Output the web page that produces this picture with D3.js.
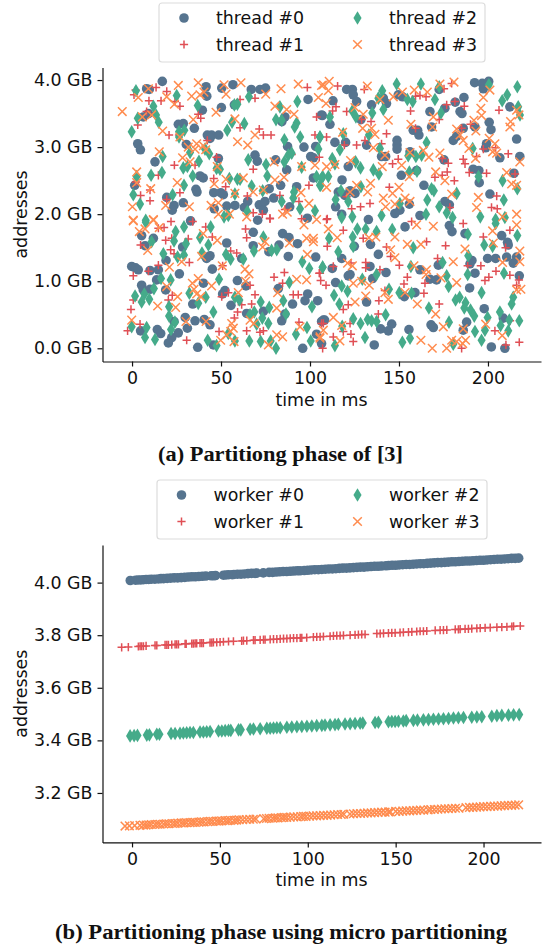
<!DOCTYPE html>
<html>
<head>
<meta charset="utf-8">
<script src="https://cdnjs.cloudflare.com/ajax/libs/d3/7.8.5/d3.min.js"></script>
<style>
    html, body { margin: 0; padding: 0; background: white; }
    svg { display: block; }
    text { font-family: "DejaVu Sans", sans-serif; fill: #111; }
</style>
</head>
<body>
<script>
// Values: [time in ms, address in GB]
const thread0 = [[17,3.98],[8.2,3.87],[9.7,3.86],[41.6,3.9],[50.4,3.88],[56.7,3.93],[67,3.86],[71.9,3.86],[75,3.88],[42,3.76],[98.9,3.71],[39.5,3.55],[50.2,3.59],[57.5,3.63],[9.2,3.5],[6.3,3.45],[26,3.34],[28.8,3.35],[35,3.28],[42.3,3.18],[44.7,3.18],[48.7,3.18],[43.8,3.13],[3.2,3.05],[4.7,2.96],[30.5,3.04],[12.9,2.78],[48.5,2.83],[69.1,2.88],[70.4,2.79],[80.7,2.81],[87.4,3.01],[96.6,3],[103.2,3.01],[100.4,2.86],[101.9,2.84],[86.9,2.66],[101.9,2.54],[38.2,2.57],[40,2.54],[1.5,2.43],[35.9,2.37],[36.5,2.33],[45.9,2.32],[49.8,2.32],[51.3,2.29],[19.5,2.25],[28.8,2.17],[23.6,2.13],[22.6,2.06],[53.2,2.12],[57.8,2.13],[63.1,2.1],[65,2.19],[71.5,2.14],[74.7,2.19],[73.8,2.06],[77.1,2.38],[83.5,2.43],[92.5,2.41],[79.6,2.24],[88.6,2.11],[98.5,1.94],[106.5,3.48],[85.9,3.45],[84.2,3.38],[46.2,2.08],[32.9,1.9],[70.6,1.91],
[192.5,3.96],[196.8,3.95],[200.4,3.98],[197.4,3.87],[120.6,3.86],[123.8,3.86],[124.3,3.78],[126.2,3.68],[112.9,3.69],[134.6,3.63],[143,3.65],[141.2,3.73],[149.6,3.78],[152,3.75],[172.6,3.86],[186.5,3.74],[181.6,3.67],[175.8,3.58],[167.4,3.53],[184.3,3.53],[185.4,3.5],[212.3,3.6],[106.9,3.47],[111.2,3.34],[128.6,3.41],[200.7,3.37],[201.7,3.26],[186.1,3.28],[192.7,3.3],[168.3,3.3],[158,3.25],[160.5,3.25],[161.2,3.18],[148.9,3.1],[148.9,3.03],[148.9,2.97],[114,3.07],[120,3.07],[131.8,3.03],[216.1,3.12],[180.5,3.1],[182.4,3.16],[199.2,3.05],[198.7,2.99],[206.7,2.84],[217.9,2.86],[156.2,2.93],[140.2,2.86],[142.5,2.86],[121.5,2.71],[175.3,2.81],[191.7,2.67],[194.9,2.65],[159.9,2.65],[151.3,2.58],[214.6,2.61],[118,2.51],[195.1,2.47],[164,2.43],[115.9,2.33],[122.5,2.35],[125.3,2.31],[119.6,2.28],[201.1,2.3],[114.4,2.11],[117.8,2],[175.8,2.19],[178.3,2.14],[155.8,2.15],[150.5,2.06],[147.7,2.01],[161.8,1.98],[132.8,1.92],
[5.4,1.68],[12,1.64],[7.3,1.53],[53.2,1.57],[68.1,1.73],[68.1,1.53],[84.6,1.71],[88.2,1.65],[93,1.56],[82.6,1.54],[76.9,1.44],[87.8,1.37],[103.2,1.36],[28.4,1.51],[19.1,1.31],[-0.2,1.22],[2,1.2],[3.5,1.17],[10.1,1.16],[14.8,1.17],[26.6,1.11],[43.8,1.38],[41.9,1.34],[45.1,1.18],[61.6,1.34],[59.2,1.01],[40.1,0.97],[64,0.93],[5.4,0.94],[10.1,0.88],[6.3,0.87],[13.8,1.02],[18.9,0.87],[52.2,0.86],[50.9,0.81],[55.6,0.64],[34.1,0.66],[82.2,0.89],[98.7,0.81],[97.2,0.71],[104.3,0.71],[90.2,0.66],[73.8,0.55],[64.4,0.52],[85.9,0.51],[84.1,0.41],[29.9,0.46],[35.4,0.41],[40.6,0.43],[43.8,0.35],[23.6,0.4],[31.1,0.3],[14.2,0.28],[4.8,0.26],[16.1,0.22],[26,0.23],[22.3,0.16],[20.4,0.08],[36.9,0.015],[45.7,0.05],[95.9,0],[103.7,0.21],[107.5,0.42],[106.5,0.07],
[153.4,1.81],[178.3,1.83],[179.8,1.74],[187.1,1.71],[207.7,1.68],[211,1.58],[211.4,1.54],[124.9,1.52],[134,1.55],[138.4,1.4],[117.8,1.34],[112.5,1.19],[133.7,1.22],[199.8,1.34],[204.3,1.34],[210.5,1.36],[216.1,1.36],[214.2,1.27],[191,1.31],[189.9,1.26],[172.1,1.24],[192.7,1.12],[217.6,1.08],[161.8,1.17],[167.4,1.03],[171.1,1.02],[121.5,1.08],[122.5,1.1],[114.4,0.98],[135.2,1.04],[142.7,1.13],[189.7,0.9],[159,0.83],[153,0.77],[131.8,0.69],[197.9,0.59],[208.6,0.45],[108.2,0.42],[106.5,0.4],[145.9,0.36],[139.7,0.29],[144,0.26],[155.6,0.28],[168,0.35],[169.3,0.31],[188,0.39],[186.1,0.27],[136.1,0.05],[201.9,0.02],[209.5,0]];

const thread1 = [[2,3.85],[1.1,3.78],[13.5,3.89],[19.5,3.83],[16.3,3.69],[9.5,3.69],[24.1,3.68],[26.9,3.61],[8.2,3.53],[3.2,3.33],[38.6,3.43],[37.2,3.49],[60.7,3.71],[69.1,3.73],[98.5,3.89],[103.7,3.45],[60.7,3.29],[71.5,3.27],[73.8,3.18],[78.1,3.18],[20.8,3.18],[26.4,3.18],[42.3,3.1],[89.7,2.89],[105.2,2.85],[102.8,3.18],[47.5,2.85],[23.8,2.73],[35.4,2.73],[68.1,2.67],[14.8,2.58],[45.9,2.53],[52.6,2.41],[2.2,2.48],[10.1,2.36],[26.9,2.32],[4.8,2.28],[10.1,2.2],[19.5,2.22],[64.8,2.27],[83.1,2.28],[99.4,2.43],[93.8,2.19],[68.1,2.02],[73.2,2],[77.5,1.94],[85.9,2.07],
[115.5,3.91],[130.5,3.86],[114.6,3.6],[112.7,3.54],[120.6,3.53],[134.3,3.38],[129,3.41],[161.8,3.77],[159.3,3.76],[165.2,3.75],[156.5,3.54],[181.4,3.68],[186.7,3.61],[176.8,3.63],[172.6,3.41],[179.6,3.95],[175.3,3.87],[206.2,3.55],[190.2,3.34],[143,3.2],[159.3,3.28],[185.2,3.28],[109.3,3.15],[130.9,3.1],[126.2,3.03],[119.3,3.03],[140.2,3.05],[204.3,2.99],[197.4,2.97],[211.4,2.9],[193.6,2.86],[186.1,2.82],[187.1,2.75],[177.7,2.76],[174.3,2.83],[149.6,2.82],[146.4,2.75],[177.1,2.63],[174.3,2.58],[170.2,2.55],[181.1,2.5],[189.5,2.62],[199.2,2.61],[215.2,2.6],[144.6,2.4],[133.7,2.16],[128.4,2.11],[123.4,2.08],[178.6,2.1],[204.9,2.27],[202,2.1],[205.2,2.08],[109.3,1.92],[120.6,2.26],
[21.9,1.89],[18,1.8],[34.1,1.89],[14.8,1.79],[18.9,1.61],[22.3,1.64],[31.6,1.63],[4.8,1.54],[41.4,1.81],[45.1,1.66],[21.7,1.47],[23.6,1.41],[32.2,1.28],[9.2,1.15],[0.7,1.08],[14.8,1.24],[55.4,1.45],[58.8,1.42],[63.8,1.78],[64.4,1.65],[77.5,1.93],[95.3,1.93],[50.9,1.23],[79.8,1.06],[85.6,1.13],[84.6,0.97],[105.2,1.12],[106,1.01],[90.6,0.8],[93.4,0.8],[69.1,0.8],[66.3,0.94],[54.1,0.83],[50.4,0.77],[20.4,0.72],[22.6,0.79],[0.7,0.72],[-0.6,0.58],[61.6,0.65],[67.2,0.66],[59.3,0.54],[57.5,0.45],[4.5,0.36],[-2.5,0.26],[30.7,0.12],[48.9,0.25],[64.4,0.26],[73.8,0.26],[71.9,0.24],[93.8,0.39],[106.5,0.37],
[109.7,1.93],[109.7,1.52],[118.7,1.76],[129.9,1.64],[143,1.51],[145.3,1.37],[157.1,1.89],[165.5,1.59],[176.2,1.53],[186.1,1.86],[197.4,1.66],[209.9,1.5],[212.3,1.76],[171.7,1.34],[113.1,1.22],[123,1.27],[131.3,1.28],[131.3,1.2],[139.3,1.17],[150.2,1.24],[154.7,1.06],[152.8,0.96],[164.6,0.97],[105.6,1.12],[109,0.94],[142.1,0.86],[138.7,0.71],[164,0.82],[172.6,0.66],[188.6,1.23],[196,1.23],[204.5,1.15],[212.3,1.09],[200.5,1.06],[198.3,1.01],[217.4,1.02],[216.1,0.94],[118.7,0.58],[121.5,0.65],[138.4,0.51],[122.5,0.37],[118.7,0.25],[123,0.21],[113.1,0.17],[124.3,0.1],[107.5,0.37],[107.1,0],[203.9,0.26],[185.2,0],[210.1,0.05],[217.6,0.09],[212.4,0.41]];

const thread2 = [[2.2,3.84],[25.1,3.77],[36.9,3.62],[65.7,3.75],[92.9,3.68],[57.5,3.63],[59.2,3.64],[12,3.61],[83.1,3.6],[13.5,3.48],[3.2,3.43],[15,3.37],[80.9,3.41],[84.1,3.4],[92.5,3.36],[91.4,3.3],[63.1,3.35],[56.2,3.37],[53.5,3.25],[-0.2,3.23],[29.4,3.25],[26.4,3.23],[26.4,3.15],[85.6,3.11],[94.5,3.15],[105.6,3.15],[104.7,2.97],[17.2,2.86],[32.6,2.92],[41,2.97],[43.4,2.9],[37.6,2.79],[87.8,2.88],[89.7,2.91],[85.6,2.78],[65.3,2.81],[75.3,2.74],[76,2.57],[28.8,2.69],[31.1,2.71],[49.4,2.67],[47.5,2.68],[16.8,2.62],[10.7,2.58],[2.6,2.56],[34.1,2.57],[95.3,2.7],[103.7,2.56],[107.1,2.56],[106,2.43],[54.7,2.53],[59.2,2.52],[60.7,2.52],[29.2,2.43],[67.2,2.42],[73.4,2.35],[0.7,2.29],[4.5,2.15],[22.8,2.29],[57.8,2.3],[91,2.33],[90.6,2.24],[84.1,2.19],[94.4,2.08],[102.8,2.05],[64.8,2.04],[51.7,1.96],[54.1,1.98],[7.7,1.91],
[148.7,3.94],[162.3,3.94],[140.6,3.84],[138.4,3.73],[154.7,3.71],[157.7,3.68],[170.2,3.71],[172.6,3.9],[200.5,3.93],[216.5,3.9],[210.8,3.78],[208,3.69],[217,3.6],[218,3.48],[173.6,3.51],[141.2,3.56],[135,3.51],[123.8,3.54],[125.8,3.45],[111.2,3.45],[118.7,3.2],[133.1,3.18],[165.5,3.07],[105.6,3.15],[116.8,2.96],[191.4,2.98],[139.3,2.98],[112.5,2.83],[114,2.75],[125.6,2.78],[128.4,2.69],[135.6,2.66],[138.7,2.6],[155.2,2.87],[159.5,2.86],[162.7,2.88],[155.8,2.63],[160.1,2.64],[106.5,2.53],[110.3,2.56],[105.6,2.43],[208.2,2.5],[194.7,2.56],[128.6,2.41],[117.4,2.35],[114.4,2.22],[121.5,2.19],[168.3,2.38],[169.6,2.35],[165.9,2.21],[182.4,2.31],[208.9,2.21],[216.5,2.38],[172.6,2.11],[176.8,2.02],[165.2,2],[150.5,2.16],[140.2,1.98],[123.8,1.96],[180.1,1.95],[195.7,1.96],[117.8,1.95],[204.3,1.92],[209.5,1.95],
[7.7,1.88],[24.5,1.74],[29.2,1.81],[44.2,1.81],[38.2,1.65],[23.6,1.6],[30.3,1.56],[11,1.59],[42.9,1.54],[73.8,1.66],[68.5,1.45],[78.4,1.46],[81.3,1.47],[52.8,1.4],[55.4,1.33],[62.5,1.33],[39.3,1.42],[17.6,1.41],[25.6,1.36],[29.2,1.39],[95.7,1.29],[99.6,1.19],[107.1,1.21],[16.3,1.04],[21.7,1.02],[12.3,0.89],[48.9,1.03],[88.4,0.98],[32.2,0.82],[1.7,0.78],[5.4,0.69],[6.9,0.81],[9.7,0.73],[37.2,0.67],[41.4,0.76],[57.8,0.76],[60.3,0.72],[20.8,0.62],[20.8,0.48],[72.3,0.69],[77.1,0.61],[85,0.71],[101.1,0.62],[45.7,0.54],[68.7,0.54],[66.3,0.5],[73.2,0.45],[70,0.36],[76.6,0.37],[86.5,0.51],[24.1,0.39],[21.9,0.28],[-0.2,0.32],[8.2,0.31],[7.3,0.16],[12.9,0.13],[42.5,0.12],[57.8,0.11],[54.1,0.22],[65.9,0.11],[72.3,0.1],[77.9,0.11],[80.9,0],[47.5,0.04],[92.1,0.21],[98.3,0.31],[100.4,0.11],
[126.6,1.78],[131.3,1.78],[110.7,1.64],[124,1.66],[137.4,1.74],[146.2,1.77],[204.3,1.86],[188.7,1.7],[197.9,1.54],[202.6,1.52],[216.5,1.68],[158,1.5],[124.3,1.52],[115.9,1.44],[107.1,1.21],[188.9,1.38],[174.5,1.28],[156.7,1.22],[188.6,1.1],[209,1.12],[176.8,1.08],[177.9,0.92],[196.4,0.83],[117.8,0.93],[121.1,0.85],[113.5,0.79],[129.4,1.03],[137.4,1.1],[144.4,0.88],[150.2,0.83],[157.1,0.82],[214.2,0.76],[213.3,0.66],[184.1,0.76],[181.8,0.72],[187.4,0.68],[186.7,0.6],[190.2,0.57],[192.3,0.48],[166.8,0.6],[116.5,0.66],[124.3,0.44],[128.4,0.37],[132.4,0.43],[134.6,0.41],[137.4,0.4],[142.5,0.5],[118.1,0.33],[178.1,0.39],[199.8,0.46],[198.3,0.27],[206.7,0.54],[207.1,0.34],[212,0.42],[211.4,0.26],[217.6,0.41],[192.7,0.25],[196.4,0.12],[130.9,0.16],[151.9,0.09],[156.2,0.15],[180.5,0.06],[114,0.04]];

const thread3 = [[-5.5,3.53],[3.5,3.74],[9.2,3.87],[19.5,3.75],[26,3.92],[37.2,3.96],[51.7,3.93],[61.2,3.96],[33.5,3.76],[38.2,3.78],[40.4,3.82],[52.8,3.79],[83.7,3.87],[93.4,3.94],[107.5,3.93],[104.7,3.74],[75.1,3.79],[23.8,3.64],[5.8,3.45],[11,3.48],[47.2,3.52],[34.4,3.41],[57.8,3.42],[80.3,3.61],[86.9,3.56],[91,3.49],[17.2,3.24],[26.9,3.15],[69.1,3.18],[59.3,3.08],[65,3.03],[15.3,2.93],[31.6,3],[36.3,3.05],[35.4,2.97],[40.1,3.02],[41.4,2.96],[28.4,2.84],[32.6,2.78],[47.9,2.71],[79.8,2.78],[95.3,2.71],[102.8,2.73],[2.6,2.63],[2.6,2.47],[10.5,2.38],[25.4,2.47],[46.2,2.45],[52.8,2.52],[62.5,2.54],[80.3,2.51],[85.4,2.55],[57.8,2.31],[68.1,2.33],[73.8,2.36],[94.9,2.32],[99.4,2.16],[0.2,2.11],[18.9,2.13],[32.2,2.11],[44.4,2.13],[48.5,2.17],[0.7,1.91],[12,1.92],[48.5,2],[54.7,2],[64.4,1.96],[84.6,2],[87.2,2.03],[103.7,1.92],
[110.8,3.98],[106.5,3.92],[110.3,3.84],[132.2,3.91],[109,3.65],[125.3,3.59],[129.9,3.49],[139.3,3.71],[144,3.4],[146.8,3.75],[151.9,3.82],[158.6,3.85],[165.9,3.82],[173,3.94],[180.9,3.97],[201.1,3.85],[197.4,3.74],[196,3.58],[196.4,3.47],[192.1,3.4],[169.3,3.45],[156.7,3.34],[168.9,3.3],[129.6,3.28],[134.6,3.28],[136.5,3.19],[118.3,3.22],[182.4,3.27],[184.3,3.18],[186.1,3.1],[193.2,3.24],[189.3,2.98],[200.7,3.13],[203.9,3.05],[202.6,2.93],[204.9,2.91],[212.7,3.38],[216.1,3.55],[212.3,3.3],[217.4,3.48],[135.6,2.99],[142.1,2.88],[163.7,2.95],[166.8,2.85],[173,2.91],[156.2,2.92],[122.8,2.8],[114,2.74],[109.3,2.71],[140.6,2.71],[151.5,2.73],[193,2.83],[217.9,2.78],[170.6,2.63],[155.8,2.56],[175.8,2.5],[210.5,2.62],[216.1,2.43],[213.3,2.45],[134,2.46],[132.4,2.33],[126.2,2.43],[122.5,2.33],[109.3,2.4],[150,2.4],[146.4,2.31],[141.2,2.24],[142.5,2.11],[147.7,2.15],[153.4,2.24],[156.2,2.19],[179.6,2.3],[194.6,2.25],[193.6,2.1],[216.1,2],
[0.7,1.9],[12,1.91],[7.3,1.78],[4.1,1.74],[15.3,1.8],[40,1.71],[47.9,1.61],[8.8,1.46],[39.1,1.37],[27.9,1.29],[21,1.21],[19.5,0.92],[33.9,0.97],[37.2,1.04],[34.8,0.88],[36.3,0.81],[38.6,0.77],[44.7,0.93],[25.6,0.77],[14.4,0.63],[24.5,0.61],[-0.2,0.42],[30.3,0.4],[41.6,0.4],[50.7,1.23],[63.5,1.18],[65.7,1.11],[63.8,1],[59.7,0.83],[66.3,0.42],[68.5,0.37],[81.3,0.6],[81.8,0.83],[92.5,1.03],[98.1,1.02],[56,0.37],[56.9,0.3],[55.4,0.25],[49.8,0.12],[53.2,0.2],[57.3,0.1],[76.6,0.05],[81.3,0.2],[84.6,0.17],[94.4,0.32],[105.6,0.15],[73.4,1.51],[74.7,1.59],[88.4,1.57],[98.5,1.4],[98.1,1.64],[101.9,1.64],[101.9,1.59],[96.6,1.84],
[110.3,1.78],[115.3,1.65],[133.1,1.65],[137,1.66],[147.7,1.66],[145.3,1.47],[147.7,1.35],[154.7,1.55],[162.3,1.55],[159.9,1.84],[169.3,1.82],[187.1,1.48],[202.6,1.75],[203,1.57],[217.9,1.45],[216.1,1.84],[208.2,1.96],[121.1,1.27],[123.8,1.23],[158.4,1.23],[165.5,1.17],[165.2,1.1],[180.5,1.29],[208.2,1.28],[217.9,1.29],[173.6,1.05],[182.4,0.98],[124.3,0.97],[129,1],[133.3,0.94],[142.1,0.83],[144,0.73],[153.4,0.83],[131.3,0.78],[125.3,0.69],[160.3,0.66],[170.6,0.51],[216.1,0.87],[218.5,0.88],[113.1,0.46],[117.8,0.34],[116.8,0.11],[198.7,0.36],[208,0.19],[174.9,0.32],[186.1,0.29],[162.3,0.12],[168.7,0],[176.8,0],[179.6,0.12],[187.4,0.12],[182.4,0.1],[185.8,0.07],[107.5,0.27],[105.6,0.17]];

const worker0 = [[-1,4.008],[2,4.009],[3.5,4.01],[5,4.01],[6.5,4.011],[8,4.012],[9.5,4.012],[11,4.013],[13,4.013],[15,4.014],[16.5,4.015],[18,4.015],[20,4.016],[22,4.017],[24,4.018],[26,4.018],[28,4.019],[30,4.02],[32,4.021],[34,4.022],[36,4.022],[38,4.023],[40,4.024],[42,4.025],[45,4.026],[46.5,4.026],[47.5,4.027],[52,4.028],[53.5,4.029],[55,4.03],[57,4.03],[58,4.031],[60,4.032],[62,4.032],[64,4.033],[66,4.034],[68,4.035],[70,4.035],[71,4.036],[74.7,4.037],[78,4.039],[80,4.039],[82,4.04],[84,4.041],[86,4.042],[88,4.042],[90,4.043],[92,4.044],[94,4.045],[95.6,4.045],[98,4.046],[100,4.047],[102,4.048],[104,4.049],[106,4.049],[108,4.05],[110,4.051],[112,4.052],[114,4.052],[116,4.053],[118,4.054],[120,4.055],[122,4.055],[124,4.056],[126,4.057],[128,4.058],[130,4.059],[132,4.059],[134,4.06],[136,4.061],[138,4.062],[140,4.062],[142,4.063],[144.5,4.064],[146,4.065],[148,4.066],[150,4.066],[152,4.067],[154,4.068],[156,4.069],[158,4.069],[160,4.07],[162,4.071],[164,4.072],[166,4.072],[168,4.073],[170,4.074],[172,4.075],[174,4.076],[176,4.076],[178,4.077],[180,4.078],[182,4.079],[184,4.079],[186,4.08],[188,4.081],[190,4.082],[192,4.082],[194,4.083],[196,4.084],[198,4.085],[200,4.085],[202,4.086],[204,4.087],[206,4.088],[208,4.089],[210,4.089],[212,4.09],[214,4.091],[216,4.092],[218,4.092],[220,4.093]];

const worker1 = [[-5.9,3.754],[-2.1,3.755],[3.6,3.757],[4.6,3.758],[5.5,3.758],[6.5,3.758],[8,3.759],[13.1,3.761],[14.1,3.761],[18.8,3.763],[19.8,3.763],[20.7,3.763],[22.6,3.764],[24.5,3.765],[25.4,3.765],[26.4,3.765],[30.2,3.767],[30.8,3.767],[34,3.768],[34.9,3.768],[35.9,3.769],[36.8,3.769],[38.7,3.77],[39.7,3.77],[40.6,3.77],[44.4,3.772],[45.4,3.772],[46.3,3.773],[48.2,3.773],[50.1,3.774],[52,3.775],[54.9,3.776],[57.7,3.777],[62.4,3.778],[63.4,3.779],[65.3,3.779],[69.1,3.781],[70,3.781],[72.9,3.782],[74.8,3.783],[75.7,3.783],[78.6,3.784],[80.5,3.785],[82.4,3.785],[84.3,3.786],[86.2,3.787],[88.1,3.787],[90,3.788],[91.9,3.789],[93.8,3.789],[95.7,3.79],[96.6,3.79],[99.4,3.791],[103.2,3.793],[105.1,3.794],[107,3.794],[108.9,3.795],[112.7,3.796],[114.6,3.797],[116.5,3.798],[118.4,3.798],[120.3,3.799],[124.1,3.8],[126.9,3.801],[128.8,3.802],[130.7,3.803],[132.6,3.803],[139.3,3.806],[141.2,3.806],[143.1,3.807],[145.9,3.808],[147.8,3.809],[149.7,3.809],[152.5,3.81],[154.4,3.811],[157.3,3.812],[159.2,3.813],[162,3.814],[163.9,3.815],[165.8,3.815],[167.7,3.816],[172.5,3.818],[175.3,3.819],[177.2,3.819],[179.1,3.82],[183.9,3.822],[185.7,3.822],[186.7,3.823],[189.5,3.824],[191.4,3.824],[193.3,3.825],[196.2,3.826],[198.1,3.827],[200.9,3.828],[203.8,3.829],[207.6,3.83],[210.4,3.831],[213.3,3.832],[216.1,3.833],[217.1,3.834],[220.9,3.835]];

const worker2 = [[-1.1,3.417],[1.2,3.418],[3.1,3.419],[8.4,3.42],[9.9,3.421],[14.1,3.423],[15.6,3.423],[22.2,3.426],[24.5,3.426],[27.3,3.427],[29.2,3.428],[31.1,3.429],[33,3.43],[34.9,3.43],[38.7,3.432],[40.6,3.432],[42.5,3.433],[44.4,3.434],[49.2,3.436],[51.1,3.436],[53,3.437],[54.9,3.438],[56.2,3.438],[60.6,3.44],[61.9,3.44],[67.2,3.442],[69.1,3.443],[72.9,3.444],[76.7,3.446],[78.6,3.446],[80.5,3.447],[82.4,3.448],[84.3,3.448],[88.1,3.45],[90.9,3.451],[93.8,3.452],[96.6,3.453],[99.5,3.454],[102.3,3.455],[105.1,3.456],[108,3.457],[109.8,3.458],[112.7,3.459],[115.5,3.46],[117.4,3.461],[121.2,3.462],[124.1,3.463],[126.9,3.464],[129.8,3.465],[131.3,3.466],[138.3,3.468],[140.2,3.469],[145.9,3.471],[147.8,3.472],[149.7,3.472],[151.6,3.473],[154.4,3.474],[156,3.475],[160.1,3.476],[162.4,3.477],[165.8,3.478],[168.7,3.479],[171.5,3.48],[174.4,3.481],[177.2,3.482],[180.1,3.483],[182.9,3.485],[185.7,3.486],[188.6,3.487],[193.3,3.488],[196.2,3.489],[199,3.49],[204.7,3.492],[207.6,3.494],[210.4,3.495],[214.2,3.496],[217.1,3.497],[220.3,3.498]];

const worker3 = [[-4,3.074],[-1.5,3.075],[1.5,3.076],[4.5,3.077],[6.5,3.078],[8,3.078],[9.5,3.079],[11,3.08],[13,3.08],[14.5,3.081],[16,3.081],[18,3.082],[19.5,3.083],[21,3.083],[23,3.084],[24.5,3.084],[26,3.085],[28,3.086],[29.5,3.086],[31,3.087],[33,3.087],[34.5,3.088],[36,3.088],[38,3.089],[39.5,3.09],[41,3.09],[43,3.091],[44.5,3.092],[46,3.092],[48,3.093],[49.5,3.093],[51,3.094],[53,3.095],[54.5,3.095],[56,3.096],[58,3.096],[59.5,3.097],[61,3.098],[63,3.098],[65,3.099],[67,3.1],[69,3.1],[70.5,3.101],[75,3.102],[76.5,3.103],[78,3.104],[80,3.104],[81.5,3.105],[83,3.105],[85,3.106],[86.5,3.107],[88,3.107],[90,3.108],[92,3.109],[94,3.109],[96,3.11],[97.5,3.111],[99,3.111],[101,3.112],[103,3.113],[105,3.113],[107,3.114],[109,3.115],[111,3.115],[113,3.116],[115,3.117],[117,3.118],[119,3.118],[120.5,3.119],[124,3.12],[126,3.121],[128,3.122],[130,3.122],[132,3.123],[134,3.124],[136,3.124],[138,3.125],[140,3.126],[142,3.127],[144,3.127],[146,3.128],[147,3.128],[150,3.13],[152,3.13],[154,3.131],[156,3.132],[158,3.132],[160,3.133],[162,3.134],[164,3.135],[166,3.135],[168.5,3.136],[170,3.137],[172,3.137],[174,3.138],[176,3.139],[178,3.14],[180,3.14],[182,3.141],[184,3.142],[186,3.142],[190,3.144],[192,3.145],[194,3.145],[196,3.146],[198,3.147],[200,3.148],[202,3.148],[204,3.149],[206,3.15],[208,3.15],[210,3.151],[212,3.152],[214,3.153],[216,3.153],[218,3.154],[220,3.155]];

const threadLabels = ["thread #0", "thread #1", "thread #2", "thread #3"];
const workerLabels = ["worker #0", "worker #1", "worker #2", "worker #3"];
const xTicks = [0, 50, 100, 150, 200];
const yTicksA = [0, 1, 2, 3, 4];
const yTicksB = [3.2, 3.4, 3.6, 3.8, 4.0];

const blue = "#56748f";
const red = "#e04f55";
const green = "#45ab8a";
const orange = "#ff8c4f";

// Thin diamond, matplotlib's "d" marker
const thinDiamond = {
    draw: function(ctx, size) {
        let h = Math.sqrt(size), w = h * 0.6;
        ctx.moveTo(0, -h); ctx.lineTo(w, 0); ctx.lineTo(0, h); ctx.lineTo(-w, 0); ctx.closePath();
    }
};

const markers = [
    { path: d3.symbol().type(d3.symbolCircle).size(72)(), fill: blue, stroke: "none" },
    { path: d3.symbol().type(d3.symbolPlus).size(24)(), fill: "none", stroke: red },
    { path: d3.symbol().type(thinDiamond).size(46)(), fill: green, stroke: "none" },
    { path: d3.symbol().type(d3.symbolTimes).size(50)(), fill: "none", stroke: orange }
];

const svg = d3.select("body").append("svg").attr("width", 542).attr("height", 947);

function drawMarker(g, m) {
    return g.append("path").attr("d", m.path).attr("fill", m.fill)
        .attr("stroke", m.stroke).attr("stroke-width", 1.5);
}

function drawPanel(o) {
    let x = d3.scaleLinear().domain(o.xDomain).range([102.5, 541]);
    let y = d3.scaleLinear().domain(o.yDomain).range([o.bottom, o.top]);
    let g = svg.append("g");

    o.series.forEach((pts, i) => {
        let layer = g.append("g");
        pts.forEach(p => {
            drawMarker(layer, markers[i]).attr("transform", "translate(" + x(p[0]) + "," + y(p[1]) + ")");
        });
    });

    let ax = g.append("g").attr("transform", "translate(0," + o.bottom + ")")
        .call(d3.axisBottom(x).tickValues(xTicks).tickSize(5).tickSizeOuter(0).tickPadding(5));
    let ay = g.append("g").attr("transform", "translate(102.5,0)")
        .call(d3.axisLeft(y).tickValues(o.yTicks).tickSize(5).tickSizeOuter(0).tickPadding(5)
            .tickFormat(d => d.toFixed(1) + " GB"));
    [ax, ay].forEach(a => {
        a.selectAll("text").attr("font-size", 17.4).attr("font-family", "DejaVu Sans").attr("fill", "#111");
        a.selectAll("path, line").attr("stroke", "#111").attr("stroke-width", 1.2);
    });

    g.append("text").attr("x", 321.5).attr("y", o.bottom + 44).attr("text-anchor", "middle")
        .attr("font-size", 17.4).text("time in ms");
    g.append("text").attr("transform", "translate(27," + (o.top + o.bottom) / 2 + ") rotate(-90)")
        .attr("text-anchor", "middle").attr("font-size", 17.4).text("addresses");

    // Legend, two columns
    let lg = o.legend;
    g.append("rect").attr("x", lg.x).attr("y", lg.y).attr("width", lg.w).attr("height", lg.h)
        .attr("rx", 3).attr("fill", "white").attr("stroke", "#dcdcdc").attr("stroke-width", 1.2);
    o.labels.forEach((label, i) => {
        let col = i > 1 ? 1 : 0, row = i % 2;
        let my = lg.rowY[row];
        let mk = g.append("g");
        drawMarker(mk, markers[i]).attr("transform", "translate(" + lg.markX[col] + "," + my + ")");
        g.append("text").attr("x", lg.textX[col]).attr("y", my + 6).attr("font-size", 17.4).text(label);
    });

    // Caption
    svg.append("text").attr("x", o.caption.x).attr("y", o.caption.y)
        .attr("textLength", o.caption.w).attr("lengthAdjust", "spacingAndGlyphs")
        .style("font-family", "'Liberation Serif', serif").style("font-weight", "bold")
        .attr("font-size", 20).text(o.caption.text);
}

drawPanel({
    series: [thread0, thread1, thread2, thread3],
    xDomain: [-16.6, 229.8], yDomain: [-0.197, 4.187],
    top: 67.5, bottom: 361.5, yTicks: yTicksA, labels: threadLabels,
    legend: { x: 159, y: 3, w: 326, h: 59, rowY: [18, 44.5], markX: [184, 357.5], textX: [216, 389] },
    caption: { x: 158, y: 461, w: 245, text: "(a) Partitiong phase of [3]" }
});

drawPanel({
    series: [worker0, worker1, worker2, worker3],
    xDomain: [-16.8, 232.7], yDomain: [3.012, 4.143],
    top: 545, bottom: 842.4, yTicks: yTicksB, labels: workerLabels,
    legend: { x: 157, y: 480, w: 330, h: 59, rowY: [495, 521.5], markX: [181.5, 357.5], textX: [213.5, 389] },
    caption: { x: 55, y: 939, w: 452, text: "(b) Partitioning phase using micro partitioning" }
});
</script>
</body>
</html>
